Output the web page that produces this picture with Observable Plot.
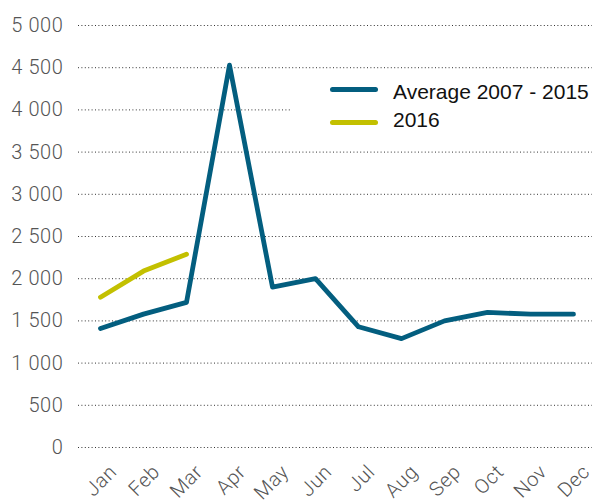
<!DOCTYPE html>
<html><head><meta charset="utf-8">
<script src="https://cdn.jsdelivr.net/npm/d3@7"></script>
<script src="https://cdn.jsdelivr.net/npm/@observablehq/plot@0.6"></script>
<style>
body{margin:0;background:#fff;}
#wrap{position:relative;width:601px;height:500px;overflow:hidden;}
#wrap svg text{font-weight:300;letter-spacing:0.6px;}
.legend{position:absolute;left:292px;top:76px;width:309px;height:62px;background:#fff;font-family:"Liberation Sans",Arial,sans-serif;font-size:21px;color:#111;}
.sw{position:absolute;left:38px;width:48px;height:5px;border-radius:3px;}
.lt{position:absolute;left:101px;line-height:24px;white-space:nowrap;}
</style></head>
<body><div id="wrap"></div>
<script>
const months = ["Jan","Feb","Mar","Apr","May","Jun","Jul","Aug","Sep","Oct","Nov","Dec"];
const average = [1410,1580,1720,4530,1900,2000,1430,1290,1500,1600,1580,1580];
const months2016 = ["Jan","Feb","Mar"];
const values2016 = [1780,2090,2290];
const yTicks = [0,500,1000,1500,2000,2500,3000,3500,4000,4500,5000];
const seriesNames = ["Average 2007 - 2015","2016"];
const colors = ["#035e7f","#c3c000"];

const fmt = d3.formatLocale({thousands:" ",grouping:[3],decimal:".",currency:["",""]}).format(",");
const avgData = months.map((m,i)=>({month:m,value:average[i]}));
const d2016 = months2016.map((m,i)=>({month:m,value:values2016[i]}));

const chart = Plot.plot({
  width:601,height:500,
  marginLeft:78,marginRight:9,marginTop:25,marginBottom:53,
  x:{type:"point",domain:months,range:[95,578],padding:0,label:null},
  y:{domain:[0,5000],label:null},
  style:{fontFamily:"Roboto, 'Liberation Sans', sans-serif",fontSize:"20px",color:"#555",background:"#fff"},
  marks:[
    Plot.gridY(yTicks,{stroke:"#333",strokeOpacity:1,strokeDasharray:"1,2.4"}),
    Plot.axisY(yTicks,{tickSize:0,tickPadding:15,tickFormat:fmt,fill:"#555",fontSize:20,label:null}),
    Plot.axisX({tickSize:0,tickRotate:-45,tickPadding:21,dx:13,fill:"#555",fontSize:20,label:null}),
    Plot.lineY(avgData,{x:"month",y:"value",stroke:colors[0],strokeWidth:4.8}),
    Plot.lineY(d2016,{x:"month",y:"value",stroke:colors[1],strokeWidth:4.8})
  ]
});
const wrap = document.getElementById("wrap");
wrap.appendChild(chart);
const leg = document.createElement("div");
leg.className="legend";
const swTop=[11,44], txTop=[4,32];
seriesNames.forEach((n,i)=>{
  const sw=document.createElement("div");
  sw.className="sw"; sw.style.top=swTop[i]+"px"; sw.style.background=colors[i];
  const t=document.createElement("div");
  t.className="lt"; t.style.top=txTop[i]+"px"; t.textContent=n;
  leg.appendChild(sw); leg.appendChild(t);
});
wrap.appendChild(leg);
</script></body></html>
